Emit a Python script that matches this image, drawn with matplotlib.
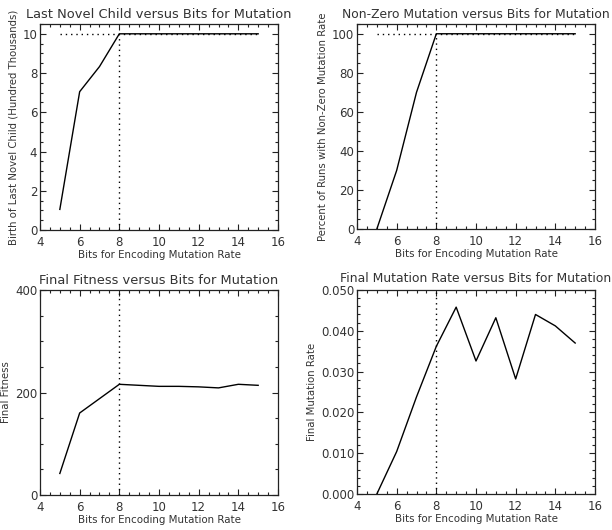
import matplotlib
matplotlib.use("Agg")
import matplotlib.pyplot as plt
from matplotlib.ticker import MultipleLocator, FormatStrFormatter

# ---- data ----
bits = [5, 6, 7, 8, 9, 10, 11, 12, 13, 14, 15]
last_novel_child = [1.05, 7.05, 8.33, 10, 10, 10, 10, 10, 10, 10, 10]
pct_nonzero = [0, 30, 70, 100, 100, 100, 100, 100, 100, 100, 100]
final_fitness = [42, 160, 188, 216, 214, 212, 212, 211, 209, 216, 214]
final_mut_rate = [0.0, 0.0104, 0.0238, 0.0362, 0.0458, 0.0326, 0.0432,
                  0.0282, 0.0440, 0.0412, 0.0370]
ref_bits = 8

titles = ["Last Novel Child versus Bits for Mutation",
          "Non-Zero Mutation versus Bits for Mutation",
          "Final Fitness versus Bits for Mutation",
          "Final Mutation Rate versus Bits for Mutation"]
ylabels = ["Birth of Last Novel Child (Hundred Thousands)",
           "Percent of Runs with Non-Zero Mutation Rate",
           "Final Fitness",
           "Final Mutation Rate"]
xlabel = "Bits for Encoding Mutation Rate"

W, H = 612, 530
fig = plt.figure(figsize=(W / 100, H / 100), dpi=100)
tc = "#333333"
plt.rcParams['font.family'] = ['DejaVu Sans']

def mk(left, top, right, bottom):
    return fig.add_axes([left / W, 1 - bottom / H, (right - left) / W, (bottom - top) / H])

ax1 = mk(40, 24, 278, 230)
ax2 = mk(357, 24, 595, 229)
ax3 = mk(40, 290, 278, 495)
ax4 = mk(357, 290, 595, 494)

dot = (0, (1, 2.8))

def style(ax, title, ylabel, ymaj, ymin, fmt=None, tpad=4, tsize=9.4):
    ax.set_xlim(4, 16)
    ax.xaxis.set_major_locator(MultipleLocator(2))
    ax.xaxis.set_minor_locator(MultipleLocator(0.5))
    ax.yaxis.set_major_locator(MultipleLocator(ymaj))
    ax.yaxis.set_minor_locator(MultipleLocator(ymin))
    if fmt:
        ax.yaxis.set_major_formatter(FormatStrFormatter(fmt))
    ax.tick_params(which='both', direction='in', top=True, right=True,
                   labelsize=8.5, labelcolor=tc, color='#222222', width=0.8)
    ax.tick_params(axis='x', pad=4)
    ax.tick_params(axis='y', pad=2)
    ax.tick_params(which='major', length=4.5)
    ax.tick_params(which='minor', length=2.2)
    for s in ax.spines.values():
        s.set_linewidth(0.9)
        s.set_color('#222222')
    ax.set_title(title, fontsize=tsize, color=tc, pad=tpad)
    ax.set_xlabel(xlabel, fontsize=7.4, color=tc, labelpad=1)
    ax.set_ylabel(ylabel, fontsize=7.3, color=tc, labelpad=3)

# Panel 1
ax1.plot(bits, last_novel_child, color='black', lw=1)
ax1.plot([bits[0], bits[-1]], [max(last_novel_child)] * 2, color='black', lw=1, linestyle=dot)
ax1.plot([ref_bits, ref_bits], [0, max(last_novel_child)], color='black', lw=1, linestyle=dot)
ax1.set_ylim(0, 10.5)
style(ax1, titles[0], ylabels[0], 2, 0.5)

# Panel 2
ax2.plot(bits, pct_nonzero, color='black', lw=1)
ax2.plot([bits[0], bits[-1]], [max(pct_nonzero)] * 2, color='black', lw=1, linestyle=dot)
ax2.plot([ref_bits, ref_bits], [0, max(pct_nonzero)], color='black', lw=1, linestyle=dot)
ax2.set_ylim(0, 105)
style(ax2, titles[1], ylabels[1], 20, 5, tsize=8.9)

# Panel 3
ax3.plot(bits, final_fitness, color='black', lw=1)
ax3.set_ylim(0, 400)
ax3.plot([ref_bits, ref_bits], [0, 400], color='black', lw=1, linestyle=dot)
style(ax3, titles[2], ylabels[2], 200, 50)

# Panel 4
ax4.plot(bits, final_mut_rate, color='black', lw=1)
ax4.set_ylim(0, 0.05)
ax4.plot([ref_bits, ref_bits], [0, 0.05], color='black', lw=1, linestyle=dot)
style(ax4, titles[3], ylabels[3], 0.01, 0.002, '%.3f', tpad=6, tsize=8.9)

fig.savefig("out.png", dpi=100)
